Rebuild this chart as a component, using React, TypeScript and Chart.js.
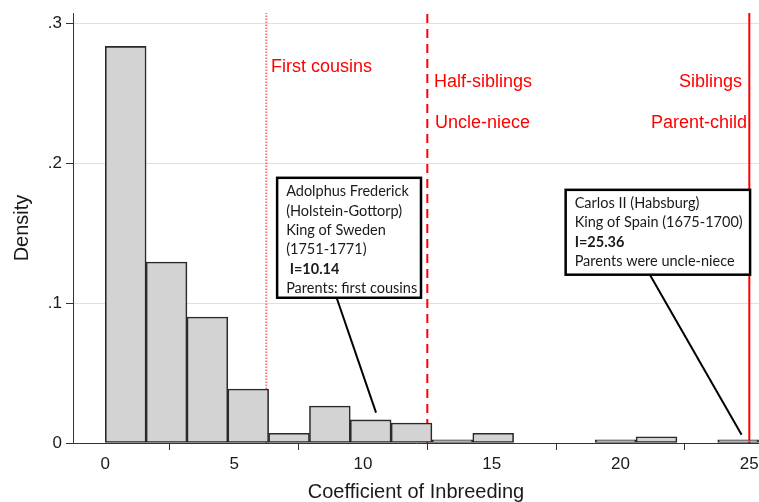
import React, { useEffect, useRef } from 'react';
import { Chart, registerables } from 'chart.js';

Chart.register(...registerables);

// Histogram bins (mid-points of 16 bins of width 1.585, from 0 to 25.36)
const binMids = [0.7925, 2.3775, 3.9625, 5.5475, 7.1325, 8.7175, 10.3025, 11.8875, 13.4725, 15.0575, 16.6425, 18.2275, 19.8125, 21.3975, 22.9825, 24.5675];
const densities: (number | null)[] = [0.2837, 0.1295, 0.0901, 0.0386, 0.0069, 0.0265, 0.0165, 0.0143, 0.0023, 0.0069, null, null, 0.0023, 0.0044, null, 0.0023];

const xTicks = [0, 5, 10, 15, 20, 25];
const yTicks = [0, 0.1, 0.2, 0.3];
const yTickLabels = ['0', '.1', '.2', '.3'];

const xMin = -1.254;
const xMax = 25.376;
const yMax = 0.3076;

// Reference lines
const refLineX = [6.25, 12.5, 25];

// Red labels for reference lines
const refLabelTexts = ['First cousins', 'Half-siblings', 'Uncle-niece', 'Siblings', 'Parent-child'];
const refLabelX = [6.43, 12.76, 12.8, 24.72, 24.91];
const refLabelY = [0.269, 0.2583, 0.229, 0.2583, 0.229];
const refLabelAlign: CanvasTextAlign[] = ['left', 'left', 'left', 'right', 'right'];

// Annotation boxes
const box1Lines = ['Adolphus Frederick', '(Holstein-Gottorp)', 'King of Sweden', '(1751-1771)', ' I=10.14', 'Parents: first cousins'];
const box1Bold = 4;
const box1Rect = { x0: 6.67, x1: 12.255, y0: 0.1897, y1: 0.1039 };
const box1Pointer = { x0: 8.98, y0: 0.1039, x1: 10.51, y1: 0.0217 };

const box2Lines = ['Carlos II (Habsburg)', 'King of Spain (1675-1700)', 'I=25.36', 'Parents were uncle-niece'];
const box2Bold = 2;
const box2Rect = { x0: 17.87, x1: 25.03, y0: 0.1811, y1: 0.1204 };
const box2Pointer = { x0: 21.14, y0: 0.1204, x1: 24.7, y1: 0.0059 };

const TEXT_DARK = '#1a1a1a';
const SANS = '"Liberation Sans", Arial, sans-serif';

const annotPlugin = {
  id: 'annots',
  afterDatasetsDraw(chart: any) {
    const { ctx } = chart;
    const xs = chart.scales.x;
    const ys = chart.scales.y;
    ctx.save();
    // red labels
    ctx.fillStyle = '#ff0000';
    ctx.font = '18px ' + SANS;
    ctx.textBaseline = 'middle';
    refLabelTexts.forEach((t, i) => {
      ctx.textAlign = refLabelAlign[i];
      ctx.fillText(t, xs.getPixelForValue(refLabelX[i]), ys.getPixelForValue(refLabelY[i]));
    });

    const drawBox = (lines: string[], bold: number, r: any, p: any, firstOffset: number, spacing: number) => {
      // pointer
      ctx.strokeStyle = '#000';
      ctx.lineWidth = 2;
      ctx.beginPath();
      ctx.moveTo(xs.getPixelForValue(p.x0), ys.getPixelForValue(p.y0));
      ctx.lineTo(xs.getPixelForValue(p.x1), ys.getPixelForValue(p.y1));
      ctx.stroke();
      const l = xs.getPixelForValue(r.x0);
      const rr = xs.getPixelForValue(r.x1);
      const t = ys.getPixelForValue(r.y0);
      const b = ys.getPixelForValue(r.y1);
      ctx.fillStyle = '#fff';
      ctx.fillRect(l, t, rr - l, b - t);
      ctx.strokeStyle = '#000';
      ctx.lineWidth = 2.5;
      ctx.strokeRect(l, t, rr - l, b - t);
      ctx.fillStyle = TEXT_DARK;
      ctx.textAlign = 'left';
      ctx.textBaseline = 'middle';
      lines.forEach((s, i) => {
        ctx.font = (i === bold ? 'bold ' : '') + '14.5px Lato, "Noto Sans", sans-serif';
        ctx.fillText(s, l + 9, t + firstOffset + i * spacing);
      });
    };
    drawBox(box1Lines, box1Bold, box1Rect, box1Pointer, 14, 19.3);
    drawBox(box2Lines, box2Bold, box2Rect, box2Pointer, 13, 19.5);
    ctx.restore();
  },
};

export default function App() {
  const ref = useRef<HTMLCanvasElement>(null);
  useEffect(() => {
    if (!ref.current) return;
    const tickFont = { family: SANS, size: 17 };
    const chart = new Chart(ref.current, {
      type: 'bar',
      data: {
        datasets: [
          {
            type: 'bar',
            label: 'Density',
            data: binMids.map((m, i) => ({ x: m, y: densities[i] })) as any,
            backgroundColor: '#d3d3d3',
            borderColor: '#2a2a2a',
            borderWidth: 1.6,
            borderSkipped: false,
            barPercentage: 1,
            categoryPercentage: 1,
            order: 0,
          } as any,
          {
            type: 'line',
            label: 'first cousins',
            data: [{ x: refLineX[0], y: 0 }, { x: refLineX[0], y: yMax }],
            borderColor: 'rgba(255,60,60,0.7)',
            borderWidth: 2,
            borderDash: [1.5, 1.5],
            pointRadius: 0,
            order: 2,
          } as any,
          {
            type: 'line',
            label: 'half-siblings',
            data: [{ x: refLineX[1], y: 0 }, { x: refLineX[1], y: yMax }],
            borderColor: '#ff0000',
            borderWidth: 2,
            borderDash: [9, 6],
            pointRadius: 0,
            order: 2,
          } as any,
          {
            type: 'line',
            label: 'siblings',
            data: [{ x: refLineX[2], y: 0 }, { x: refLineX[2], y: yMax }],
            borderColor: '#ff0000',
            borderWidth: 2,
            pointRadius: 0,
            order: 2,
          } as any,
        ],
      },
      options: {
        responsive: false,
        animation: false,
        events: [],
        layout: { padding: { top: 13, left: 0, right: 0, bottom: 0 } },
        plugins: { legend: { display: false }, tooltip: { enabled: false } },
        scales: {
          x: {
            type: 'linear',
            offset: false,
            min: xMin,
            max: xMax,
            afterBuildTicks: (s: any) => {
              s.ticks = xTicks.map((v) => ({ value: v }));
            },
            afterFit: (s: any) => {
              s.height = 59;
              s.paddingLeft = 0;
              s.paddingRight = 0;
            },
            grid: { drawOnChartArea: false, drawTicks: true, tickLength: 7, tickColor: '#333', tickWidth: 1 },
            border: { display: true, color: '#333', width: 1 },
            ticks: { font: tickFont, color: TEXT_DARK, padding: 4, maxRotation: 0, autoSkip: false, callback: (v: any) => String(v) },
            title: {
              display: true,
              text: 'Coefficient of Inbreeding',
              color: TEXT_DARK,
              font: { family: SANS, size: 20, lineHeight: 1 },
              padding: { top: 0, bottom: 0 },
            },
          },
          y: {
            type: 'linear',
            min: 0,
            max: yMax,
            afterBuildTicks: (s: any) => {
              s.ticks = yTicks.map((v) => ({ value: v }));
            },
            afterFit: (s: any) => {
              s.width = 73;
              s.paddingTop = 0;
              s.paddingBottom = 0;
            },
            grid: { color: '#e0e0e0', lineWidth: 1, drawTicks: true, tickLength: 7, tickColor: '#333', tickWidth: 1 },
            border: { display: true, color: '#333', width: 1 },
            ticks: {
              font: tickFont,
              color: TEXT_DARK,
              padding: 4,
              callback: (v: any) => {
                const i = yTicks.findIndex((t) => Math.abs(t - v) < 1e-9);
                return i >= 0 ? yTickLabels[i] : '';
              },
            },
            title: {
              display: true,
              text: 'Density',
              color: TEXT_DARK,
              font: { family: SANS, size: 20, lineHeight: 1 },
              padding: { top: 12, bottom: 0 },
            },
          },
        },
      } as any,
      plugins: [annotPlugin],
    });
    return () => chart.destroy();
  }, []);
  return (
    <div style={{ position: 'absolute', left: 0, top: 0, width: 759, height: 502, background: '#fff' }}>
      <canvas ref={ref} width={759} height={502} style={{ display: 'block' }} />
    </div>
  );
}
